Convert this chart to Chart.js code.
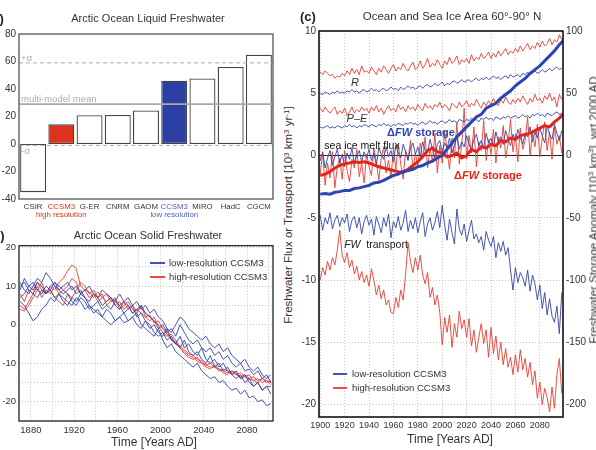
<!DOCTYPE html>
<html>
<head>
<meta charset="utf-8">
<script src="https://cdn.jsdelivr.net/npm/chart.js@4.4.1/dist/chart.umd.min.js"></script>
<style>
  body { margin:0; width:596px; height:450px; overflow:hidden; background:#fff; position:relative;
         font-family:"Liberation Sans", Arial, sans-serif; }
  canvas { position:absolute; }
  .t { position:absolute; white-space:nowrap; line-height:1; color:#222; transform:translate(-50%,-50%); z-index:2; }
  .l { position:absolute; white-space:nowrap; line-height:1; color:#222; transform:translateY(-50%); z-index:2; }
  .seg { position:absolute; height:2px; z-index:2; }
  sup { font-size:70%; vertical-align:0.45em; line-height:0; }
</style>
</head>
<body>

<canvas id="chartA" width="280" height="200" style="left:0;top:25px;width:280px;height:200px"></canvas>
<canvas id="chartB" width="280" height="213" style="left:0;top:237px;width:280px;height:213px"></canvas>
<canvas id="chartC" width="300" height="410" style="left:296px;top:22px;width:300px;height:410px"></canvas>

<!-- panel letters and titles -->
<div class="l" style="left:-12px;top:18px;font-size:13px;font-weight:bold">(a)</div>
<div class="l" style="left:-12px;top:235px;font-size:13px;font-weight:bold">(b)</div>
<div class="l" style="left:300px;top:16px;font-size:13px;font-weight:bold">(c)</div>
<div class="t" style="left:148px;top:18px;font-size:11px;color:#333">Arctic Ocean Liquid Freshwater</div>
<div class="t" style="left:148px;top:235px;font-size:11px;color:#333">Arctic Ocean Solid Freshwater</div>
<div class="t" style="left:452px;top:17px;font-size:11.5px;color:#333">Ocean and Sea Ice Area 60°-90° N</div>

<div class="t" style="left:154px;top:442px;font-size:12px;color:#333">Time [Years AD]</div>
<div class="t" style="left:450px;top:439px;font-size:12px;color:#333">Time [Years AD]</div>
<div class="t" style="left:289px;top:215px;font-size:11.5px;color:#333;transform:translate(-50%,-50%) rotate(-90deg)">Freshwater Flux or Transport [10<sup>3</sup> km<sup>3</sup> yr<sup>-1</sup>]</div>
<div class="t" style="left:594px;top:210px;font-size:11.5px;color:#333;transform:translate(-50%,-50%) rotate(-90deg)">Freshwater Storage Anomaly [10<sup>3</sup> km<sup>3</sup>], wrt 2000 AD</div>

<!-- legend panel b -->
<div class="seg" style="left:150px;top:262px;width:15px;background:#4052c0"></div>
<div class="l" style="left:169px;top:263px;font-size:9.5px;color:#333">low-resolution CCSM3</div>
<div class="seg" style="left:150px;top:276px;width:15px;background:#f04a3e"></div>
<div class="l" style="left:169px;top:277px;font-size:9.5px;color:#333">high-resolution CCSM3</div>

<!-- legend panel c -->
<div class="seg" style="left:333px;top:373px;width:14px;background:#4052c0"></div>
<div class="l" style="left:352px;top:374px;font-size:9.5px;color:#333">low-resolution CCSM3</div>
<div class="seg" style="left:333px;top:387px;width:14px;background:#f04a3e"></div>
<div class="l" style="left:352px;top:388px;font-size:9.5px;color:#333">high-resolution CCSM3</div>

<!-- curve labels panel c -->
<div class="t" style="left:355px;top:82px;font-size:11px;font-style:italic;color:#333">R</div>
<div class="t" style="left:357px;top:118px;font-size:11px;font-style:italic;color:#333">P–E</div>
<div class="t" style="left:421px;top:132px;font-size:11px;font-weight:bold;color:#2c45b0">Δ<i>FW</i> storage</div>
<div class="t" style="left:362px;top:145px;font-size:10.5px;color:#111">sea ice melt flux</div>
<div class="t" style="left:488px;top:175px;font-size:11px;font-weight:bold;color:#e3261c">Δ<i>FW</i> storage</div>
<div class="t" style="left:376px;top:244px;font-size:10.5px;color:#222"><i>FW</i>&nbsp; transport</div>

<script>
// ---------- panel (a): liquid freshwater per model ----------
const modelNames = ['CSIR', 'CCSM3', 'G-ER', 'CNRM', 'GAOM', 'CCSM3', 'MIRO', 'HadC', 'CGCM'];
const modelNotes = ['', 'high resolution', '', '', '', 'low resolution', '', '', ''];
const liquidFW = [-35, 14.3, 20.9, 21.1, 24.4, 46, 47.7, 56, 65];
const multiModelMean = 29;
const sigmaFW = 30;

// tick values
const ticksBx = [1880, 1900, 1920, 1940, 1960, 1980, 2000, 2020, 2040, 2060, 2080, 2100];
const ticksBy = [-25, -20, -15, -10, -5, 0, 5, 10, 15, 20];
const ticksCx = [1900, 1920, 1940, 1960, 1980, 2000, 2020, 2040, 2060, 2080];
const ticksCy = [-20, -15, -10, -5, 0, 5, 10];
const ticksCy2 = [-200, -150, -100, -50, 0, 50, 100];

// ---------- panel (b): solid freshwater, 4-year samples 1870-2102 ----------
const yearsB = [];
for (let y = 1870; y <= 2102; y += 4) yearsB.push(y);
const solidHi1 = [8, 6, 9, 8, 11, 9, 8, 10, 9, 11,
  12, 14, 15.5, 14.5, 10, 9, 8.5, 7, 8.5, 7,
  8, 6, 6.5, 5, 6, 4, 5, 3.5, 4.5, 3,
  2, 1, 0, -1, -2.5, -4, -4.5, -6, -7, -8,
  -8.5, -9.5, -10, -10.5, -11, -11, -12, -11.5, -12, -12.5,
  -13, -12.5, -13.5, -14, -14.5, -14, -15, -14.5, -15];
const solidHi2 = [5, 4, 6, 8, 10, 7, 9, 8, 10, 8,
  9, 10, 12, 11, 8, 9, 7, 8, 6, 7,
  6, 7, 5, 6, 4, 5, 3, 4, 3, 2,
  2.5, 0.5, 1, -1, -2, -3.5, -5, -5.5, -6.5, -7.5,
  -8, -9, -9.5, -10.5, -10, -11, -11.5, -12, -12.5, -12,
  -13, -13.5, -13, -14, -13.5, -14.5, -14, -15, -14.5];
const solidHi3 = [4, 3.5, 5, 7, 9, 11, 8, 9, 7, 6,
  5, 8, 7, 9, 11, 10, 8, 9, 7, 8,
  5, 6, 7, 4, 5, 6, 4, 3, 5, 2,
  1, 2, -0.5, -2, -3, -2.5, -4, -6, -7.5, -8.5,
  -9, -8.5, -10, -11, -11.5, -10.5, -11.5, -12.5, -13, -12,
  -12.5, -14, -13.5, -13, -14.5, -15, -14, -14.5, -15.5];
const solidLo1 = [6, 5, 3, 1, 2, 4, 5, 7, 6, 8,
  6, 5, 7, 6, 8, 7, 5, 4, 3, 2,
  1, 0, 1, 2, 0.5, 1, 2, 3, 0, -1,
  -2, -3, -1, -4, -6, -5, -7, -8, -9, -10,
  -11, -10, -12, -13, -14, -13.5, -15, -14.5, -16, -17,
  -16.5, -18, -17, -19, -18.5, -20, -19.5, -21, -20.5];
const solidLo2 = [11, 9, 8, 10, 12, 11, 13.5, 12, 10, 9,
  8, 9, 10, 8, 9, 7, 6, 8, 7, 5,
  6, 7, 5, 4, 6, 5, 3, 4, 5, 3,
  2, 1, -1, 0, -2, -1, -3, 0, -2, -4,
  -5, -4, -6, -7, -6, -8, -7, -9, -8, -10,
  -11, -10, -12, -11.5, -13, -12, -14, -13, -15];
const solidLo3 = [10, 11, 9, 8, 7, 9, 8, 10, 11, 9,
  10, 11, 9, 10, 8, 9, 10, 8, 7, 9,
  8, 7, 6, 8, 6, 7, 5, 6, 4, 5,
  3, 4, 2, 1, -1, -2, 0, 2, 1, -1,
  -2, -3, -4, -3, -5, -6, -5, -7, -6, -8,
  -9, -10, -9, -11, -12, -11, -13, -14, -13];
const solidLo4 = [9, 12, 10, 9, 11, 10, 8, 9, 7, 8,
  7, 6, 5, 7, 6, 4, 5, 3, 4, 2,
  4, 3, 1, 2, 3, 1, 2, 0, -1, 1,
  -1, 0, -2, -3, -1, -4, -5, -3, -6, -5,
  -7, -8, -6, -9, -10, -9, -11, -10, -12, -13,
  -12, -14, -13, -15, -16, -15, -17, -16, -18];
const solidLo5 = [7, 8, 10, 11, 9, 8, 10, 9, 11, 10,
  9, 8, 6, 5, 7, 6, 4, 5, 6, 4,
  5, 4, 6, 5, 3, 4, 5, 2, 3, 1,
  0, -2, -3, -2, -4, -3, -5, -6, -4, -7,
  -8, -7, -9, -10, -8, -11, -10, -12, -11, -13,
  -14, -13, -15, -14, -16, -15, -17, -16, -16];

// ---------- panel (c): fluxes (2-year samples 1900-2098) ----------
const yearsC = [];
for (let y = 1900; y <= 2098; y += 2) yearsC.push(y);
const runoffHi = [6.7, 6.5, 6.8, 6.6, 6.4, 6.5, 6.2, 6.4, 6.3, 6.6,
  6.4, 6.8, 6.5, 7.0, 6.6, 6.9, 6.5, 7.2, 6.7, 6.8,
  6.6, 7.1, 6.8, 6.5, 7.0, 6.7, 7.2, 6.9, 6.6, 7.0,
  7.3, 6.8, 7.1, 6.9, 7.4, 7.0, 6.8, 7.2, 7.5, 6.9,
  7.1, 7.6, 7.0, 7.3, 7.8, 7.1, 7.4, 7.2, 7.7, 7.3,
  7.0, 7.6, 7.3, 7.9, 7.4, 7.6, 8.0, 7.3, 7.7, 7.5,
  7.8, 7.4, 8.1, 7.6, 7.9, 7.7, 8.2, 7.8, 8.0, 8.3,
  7.8, 8.2, 7.9, 8.4, 8.0, 8.3, 8.6, 8.1, 8.4, 8.2,
  8.6, 8.3, 8.8, 8.4, 8.7, 9.0, 8.5, 8.8, 8.6, 9.1,
  8.7, 9.2, 8.8, 9.0, 9.4, 8.9, 9.3, 9.1, 9.7, 9.3];
const runoffLo = [5.0, 4.9, 5.1, 5.0, 4.9, 5.1, 5.0, 5.2, 5.0, 5.1,
  5.0, 5.2, 5.1, 5.3, 5.1, 5.2, 5.0, 5.2, 5.3, 5.1,
  5.2, 5.4, 5.2, 5.3, 5.1, 5.3, 5.4, 5.2, 5.3, 5.5,
  5.3, 5.4, 5.2, 5.5, 5.3, 5.4, 5.6, 5.4, 5.5, 5.3,
  5.5, 5.6, 5.4, 5.6, 5.7, 5.5, 5.6, 5.8, 5.6, 5.7,
  5.9, 5.6, 5.8, 5.7, 5.9, 6.0, 5.8, 5.9, 6.1, 5.9,
  6.0, 6.1, 5.9, 6.1, 6.2, 6.0, 6.2, 6.1, 6.3, 6.1,
  6.2, 6.4, 6.2, 6.3, 6.1, 6.3, 6.4, 6.2, 6.5, 6.3,
  6.4, 6.5, 6.3, 6.6, 6.5, 6.7, 6.5, 6.6, 6.8, 6.6,
  6.7, 6.9, 6.7, 6.8, 7.0, 6.8, 7.0, 7.1, 6.9, 7.0];
const pmeHi = [3.8, 3.5, 3.9, 3.6, 3.4, 3.7, 3.9, 3.3, 3.6, 3.4,
  3.8, 3.2, 3.5, 3.9, 3.4, 3.7, 3.5, 3.9, 3.6, 3.8,
  3.4, 3.9, 3.6, 4.0, 3.5, 3.8, 3.3, 3.7, 4.0, 3.6,
  3.8, 3.5, 4.1, 3.7, 3.9, 3.5, 4.0, 3.7, 3.9, 3.6,
  4.1, 3.8, 3.6, 4.2, 3.8, 4.0, 3.7, 4.1, 3.9, 4.3,
  3.8, 4.1, 3.9, 3.6, 4.2, 4.0, 3.8, 4.3, 3.9, 4.1,
  4.4, 3.9, 4.2, 4.0, 4.5, 4.1, 3.8, 4.3, 4.0, 4.4,
  4.1, 4.6, 4.2, 4.0, 4.5, 4.2, 4.7, 4.3, 4.1, 4.5,
  4.2, 4.6, 4.3, 4.8, 4.4, 4.1, 4.6, 4.3, 4.9, 4.4,
  4.6, 4.2, 4.8, 4.5, 5.0, 4.4, 4.7, 3.9, 4.9, 4.5];
const pmeLo = [2.3, 2.2, 2.3, 2.4, 2.2, 2.3, 2.2, 2.4, 2.3, 2.2,
  2.4, 2.3, 2.5, 2.3, 2.4, 2.2, 2.4, 2.3, 2.5, 2.4,
  2.3, 2.5, 2.4, 2.3, 2.5, 2.4, 2.6, 2.4, 2.5, 2.3,
  2.5, 2.4, 2.6, 2.5, 2.4, 2.6, 2.5, 2.7, 2.5, 2.6,
  2.4, 2.6, 2.7, 2.5, 2.6, 2.8, 2.6, 2.7, 2.5, 2.7,
  2.8, 2.6, 2.7, 2.9, 2.7, 2.8, 2.6, 2.9, 2.8, 2.7,
  2.9, 2.8, 3.0, 2.8, 2.9, 2.7, 3.0, 2.9, 3.1, 2.9,
  3.0, 2.8, 3.1, 3.0, 2.9, 3.1, 3.0, 3.2, 3.0, 3.1,
  3.2, 3.0, 3.1, 3.3, 3.1, 3.2, 3.0, 3.3, 3.2, 3.4,
  3.2, 3.3, 3.1, 3.4, 3.3, 3.2, 3.4, 3.5, 3.3, 3.4];
const meltHi = [-1.5, 0.2, -2.4, -0.6, -1.8, 0.3, -2.6, -0.9, -0.2, -1.9,
  0.4, -1.2, -2.1, -0.3, -1.0, 0.5, -1.7, -0.6, -2.2, 0.1,
  -0.9, -1.6, 0.6, -0.5, -2.0, -0.2, 0.7, -1.4, -0.4, -1.8,
  0.5, -1.1, 0.9, -0.7, -1.9, 0.4, -0.3, 1.2, -1.2, 0.2,
  -0.8, 1.0, -0.2, 1.5, -1.0, 0.6, -0.5, 1.8, -1.4, 0.8,
  -0.6, 2.0, 0.3, -1.1, 1.4, -0.2, 2.6, -0.7, 0.9, 3.8,
  -0.3, 1.6, 0.2, 2.3, -0.9, 1.1, 0.4, 2.8, -0.4, 1.3,
  0.1, 2.1, -0.6, 1.5, 0.6, 2.4, -0.2, 1.0, 2.9, 0.3,
  1.7, -0.5, 2.2, 0.5, 1.2, 3.1, 0.0, 1.8, 0.7, 2.5,
  -0.1, 1.4, 2.7, 0.4, 1.9, -0.3, 2.3, 0.9, 1.6, 0.2];
const meltLo = [-0.4, 0.3, -1.0, -0.2, 0.4, -0.8, -0.1, 0.5, -0.6, 0.1,
  -0.9, 0.2, -0.3, 0.6, -0.7, 0.0, 0.4, -0.5, 0.3, -0.2,
  0.5, -0.4, 0.2, -0.8, 0.6, 0.1, -0.3, 0.7, -0.1, 0.4,
  -0.5, 0.8, 0.2, -0.2, 0.9, 0.3, -0.4, 0.6, 1.0, 0.1,
  0.7, -0.1, 1.1, 0.4, 0.2, 1.3, 0.5, -0.2, 0.9, 1.2,
  0.3, 1.0, 0.6, 1.4, 0.2, 0.8, 1.5, 0.5, 1.1, 0.7,
  1.6, 0.9, 0.4, 1.3, 1.7, 0.8, 1.2, 0.6, 1.8, 1.0,
  1.4, 0.7, 1.9, 1.1, 1.5, 0.9, 2.0, 1.3, 0.8, 1.7,
  1.2, 2.1, 1.4, 0.9, 1.8, 1.5, 2.3, 1.1, 1.9, 1.4,
  2.2, 1.6, 1.0, 2.4, 1.7, 1.3, 2.5, 1.8, 1.2, 2.0];
const transportLo = [-4.8, -6.0, -5.0, -5.5, -4.6, -5.9, -5.2, -4.8, -5.7, -5.0,
  -5.4, -4.7, -6.1, -5.2, -4.9, -5.8, -5.0, -6.3, -5.3, -4.8,
  -5.6, -5.1, -6.4, -4.9, -5.5, -6.2, -5.0, -5.7, -4.7, -6.6,
  -5.3, -5.8, -4.9, -6.0, -5.4, -4.4, -6.1, -5.2, -5.9, -5.0,
  -6.2, -5.3, -4.6, -6.5, -5.5, -5.0, -6.0, -5.4, -4.5, -5.8,
  -4.0, -5.6, -6.8, -5.1, -6.2, -7.1, -4.3, -5.9, -6.4, -5.5,
  -6.9, -6.0, -5.2, -6.7, -6.3, -7.0, -6.5, -7.6, -6.1, -6.8,
  -7.3, -6.5, -8.2, -7.0, -7.7, -6.9, -8.0, -7.4, -9.2, -10.8,
  -9.0, -10.2, -9.4, -9.8, -10.5, -9.2, -10.9, -9.6, -10.3, -11.6,
  -10.4, -12.3, -11.0, -12.8, -11.5, -12.9, -13.4, -12.1, -14.3, -11.0];
const transportHi = [-10.0, -9.0, -9.6, -8.5, -9.2, -8.2, -8.8, -7.6, -6.0, -8.0,
  -8.6, -7.8, -9.0, -8.4, -9.5, -8.9, -10.0, -9.3, -10.2, -9.6,
  -10.5, -9.1, -10.0, -11.2, -10.4, -11.5, -10.8, -12.0, -11.6, -12.6,
  -12.7, -11.4, -12.2, -10.8, -11.6, -9.5, -7.0, -8.5, -9.4, -8.2,
  -9.2, -8.0, -9.6, -10.3, -9.4, -11.4, -10.6, -12.0, -11.2, -12.6,
  -15.2, -13.0, -14.2, -12.8, -15.4, -13.5, -14.6, -12.5, -13.9, -13.2,
  -14.6, -13.1, -15.3, -14.0, -15.8, -14.6, -13.5, -15.1, -14.0, -16.2,
  -13.8, -15.9, -14.5, -16.4, -15.0, -16.8, -15.5, -17.0, -16.2, -17.6,
  -16.0, -17.4, -15.6, -17.2, -16.3, -17.8, -16.6, -18.4, -17.3, -19.5,
  -18.2, -20.0, -18.7, -19.4, -20.6, -18.6, -20.3, -17.6, -16.3, -19.1];

// storage anomaly (right axis), 4-year samples 1900-2100
const yearsS = [];
for (let y = 1900; y <= 2100; y += 4) yearsS.push(y);
const storageLo = [-31, -30.5, -31, -29.5, -29, -28, -28, -26.5, -26, -25,
  -24, -22, -21.5, -20, -18, -16, -15, -13, -12, -11,
  -9, -8, -6, -4.5, -2, 0, 5, 10, 15, 19,
  23, 27, 31, 33, 38, 40, 42, 46, 49, 52,
  56, 59, 62, 66, 69, 72, 76, 80, 84, 89,
  93];
const storageHi = [-16, -15, -13, -10, -8, -6.5, -6, -5, -5.5, -5,
  -6, -7.5, -9, -10, -11, -12, -13, -13.5, -11, -8,
  -5, -1, 4, 6, 3, 2, -1, 0, 2, -2,
  0, 5, 3, 7, 6, 9, 8, 12, 11, 14,
  13, 16, 17, 18, 20, 22, 24, 23, 27, 30,
  34];

// ---------- helpers ----------
Chart.defaults.font.family = '"Liberation Sans", Arial, sans-serif';
Chart.defaults.color = '#222';

const BLUE = 'rgba(52,68,168,0.9)';
const RED = 'rgba(232,62,50,0.9)';

function pts(xs, ys) {
  return ys.map((v, i) => ({ x: xs[i], y: v }));
}

function thin(label, xs, ys, color, axis) {
  return { label: label, data: pts(xs, ys), borderColor: color, borderWidth: 1,
           pointRadius: 0, fill: false, yAxisID: axis || 'y' };
}

function fixTicks(list) {
  return function(scale) { scale.ticks = list.map(v => ({ value: v })); };
}

const frame = {
  id: 'frame',
  afterDraw(chart, args, opts) {
    const a = chart.chartArea, c = chart.ctx;
    c.save();
    c.strokeStyle = opts.color || '#000';
    c.lineWidth = opts.width || 1;
    c.strokeRect(a.left, a.top, a.right - a.left, a.bottom - a.top);
    c.restore();
  }
};

const dotted = { display: false, dash: [1, 2] };
const gridDots = { color: '#c4c4c4', lineWidth: 1, drawTicks: false };

// ---------- chart (a) ----------
const tickColorsA = ['#333', '#e0301e', '#333', '#333', '#333', '#4a5cc4', '#333', '#333', '#333'];

const refLines = {
  id: 'refLines',
  afterDatasetsDraw(chart) {
    const y = chart.scales.y, a = chart.chartArea, c = chart.ctx;
    c.save();
    c.strokeStyle = '#aaa';
    c.fillStyle = '#aaa';
    c.font = '9.5px "Liberation Sans", Arial, sans-serif';
    c.textBaseline = 'middle';
    // mean
    let yy = y.getPixelForValue(multiModelMean);
    c.lineWidth = 1.8;
    c.beginPath(); c.moveTo(a.left, yy); c.lineTo(a.right, yy); c.stroke();
    c.fillText('multi-model mean', a.left + 2, yy - 5);
    // +/- sigma
    c.lineWidth = 1;
    c.setLineDash([4, 3]);
    yy = y.getPixelForValue(multiModelMean + sigmaFW);
    c.beginPath(); c.moveTo(a.left, yy); c.lineTo(a.right, yy); c.stroke();
    c.fillText('+σ', a.left + 2, yy - 5);
    yy = y.getPixelForValue(multiModelMean - sigmaFW);
    c.beginPath(); c.moveTo(a.left, yy); c.lineTo(a.right, yy); c.stroke();
    c.fillText('-σ', a.left + 2, yy + 6);
    c.restore();
  }
};

new Chart(document.getElementById('chartA'), {
  type: 'bar',
  data: {
    labels: modelNames.map((n, i) => modelNotes[i] ? [n, modelNotes[i]] : n),
    datasets: [{
      data: liquidFW,
      backgroundColor: ['#fff', '#e0301e', '#fff', '#fff', '#fff', '#2c3fa4', '#fff', '#fff', '#fff'],
      borderColor: '#444',
      borderWidth: 1.3,
      borderSkipped: false,
      barPercentage: 0.92,
      categoryPercentage: 1
    }]
  },
  options: {
    responsive: false,
    animation: false,
    events: [],
    layout: { padding: { top: 6, right: 7, left: 0, bottom: 0 } },
    plugins: { legend: { display: false }, tooltip: { enabled: false }, frame: { color: '#444', width: 1.2 } },
    scales: {
      x: {
        grid: { display: false, drawTicks: false },
        border: { display: false },
        ticks: {
          autoSkip: false, maxRotation: 0, padding: 4,
          font: { size: 7.8, lineHeight: 1.05 },
          color: ctx => tickColorsA[ctx.index]
        },
        afterFit: s => { s.height = 26; }
      },
      y: {
        min: -40, max: 80,
        grid: { display: false, drawTicks: false },
        border: { display: false },
        ticks: { stepSize: 20, font: { size: 10 }, color: '#333', padding: 3 },
        afterFit: s => { s.width = 19; }
      }
    }
  },
  plugins: [refLines, frame]
});

// ---------- chart (b) ----------
const solidSets = [
  thin('lo1', yearsB, solidLo1, BLUE),
  thin('lo2', yearsB, solidLo2, BLUE),
  thin('lo3', yearsB, solidLo3, BLUE),
  thin('lo4', yearsB, solidLo4, BLUE),
  thin('lo5', yearsB, solidLo5, BLUE),
  thin('hi1', yearsB, solidHi1, RED),
  thin('hi2', yearsB, solidHi2, RED),
  thin('hi3', yearsB, solidHi3, RED)
];

new Chart(document.getElementById('chartB'), {
  type: 'line',
  data: { datasets: solidSets },
  options: {
    responsive: false,
    animation: false,
    events: [],
    layout: { padding: { top: 6, right: 7, left: 0, bottom: 0 } },
    plugins: { legend: { display: false }, tooltip: { enabled: false }, frame: { color: '#222', width: 1.3 } },
    scales: {
      x: {
        type: 'linear', min: 1869, max: 2104, bounds: 'data',
        grid: gridDots, border: dotted,
        ticks: {
          autoSkip: false, maxRotation: 0, padding: 4,
          font: { size: 9.5 }, color: '#333',
          callback: v => (v % 40 === 0 ? String(v) : '')
        },
        afterBuildTicks: fixTicks(ticksBx),
        afterFit: s => { s.height = 29; }
      },
      y: {
        min: -25, max: 20.5, bounds: 'data',
        grid: gridDots, border: dotted,
        ticks: {
          font: { size: 9.5 }, color: '#333', padding: 3,
          callback: v => (v % 10 === 0 ? String(v) : '')
        },
        afterBuildTicks: fixTicks(ticksBy),
        afterFit: s => { s.width = 19; }
      }
    }
  },
  plugins: [frame]
});

// ---------- chart (c) ----------
const zeroLine = {
  id: 'zeroLine',
  beforeDatasetsDraw(chart) {
    const y = chart.scales.y, a = chart.chartArea, c = chart.ctx;
    const yy = y.getPixelForValue(0);
    c.save();
    c.strokeStyle = '#222';
    c.lineWidth = 1;
    c.beginPath(); c.moveTo(a.left, yy); c.lineTo(a.right, yy); c.stroke();
    c.restore();
  }
};

const fluxSets = [
  { label: 'storage lo', data: pts(yearsS, storageLo), borderColor: '#2c45b0', borderWidth: 3,
    pointRadius: 0, yAxisID: 'y2' },
  { label: 'storage hi', data: pts(yearsS, storageHi), borderColor: '#e3261c', borderWidth: 3,
    pointRadius: 0, yAxisID: 'y2' },
  thin('R lo', yearsC, runoffLo, BLUE),
  thin('R hi', yearsC, runoffHi, RED),
  thin('P-E lo', yearsC, pmeLo, BLUE),
  thin('P-E hi', yearsC, pmeHi, RED),
  thin('melt lo', yearsC, meltLo, BLUE),
  thin('melt hi', yearsC, meltHi, RED),
  thin('FW lo', yearsC, transportLo, BLUE),
  thin('FW hi', yearsC, transportHi, RED)
];

new Chart(document.getElementById('chartC'), {
  type: 'line',
  data: { datasets: fluxSets },
  options: {
    responsive: false,
    animation: false,
    events: [],
    layout: { padding: { top: 7, right: 0, left: 0, bottom: 0 } },
    plugins: { legend: { display: false }, tooltip: { enabled: false }, frame: { color: '#111', width: 1.6 } },
    scales: {
      x: {
        type: 'linear', min: 1899, max: 2099, bounds: 'data',
        grid: gridDots, border: dotted,
        ticks: {
          autoSkip: false, maxRotation: 0, padding: 3,
          font: { size: 9 }, color: '#333', callback: v => String(v)
        },
        afterBuildTicks: fixTicks(ticksCx),
        afterFit: s => { s.height = 15; }
      },
      y: {
        min: -21, max: 10, bounds: 'data',
        grid: gridDots, border: dotted,
        ticks: { font: { size: 10 }, color: '#333', padding: 3 },
        afterBuildTicks: fixTicks(ticksCy),
        afterFit: s => { s.width = 23; }
      },
      y2: {
        position: 'right',
        min: -210, max: 100, bounds: 'data',
        grid: { drawOnChartArea: false, drawTicks: false },
        border: { display: false },
        ticks: { font: { size: 10 }, color: '#333', padding: 3 },
        afterBuildTicks: fixTicks(ticksCy2),
        afterFit: s => { s.width = 33; }
      }
    }
  },
  plugins: [zeroLine, frame]
});
</script>
</body>
</html>
